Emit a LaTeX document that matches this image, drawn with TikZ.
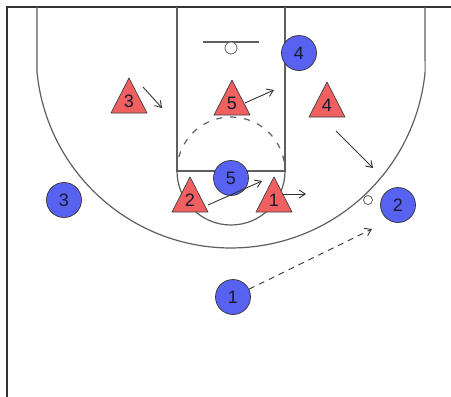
\documentclass[tikz,border=0pt]{standalone}
\usepackage{fontspec}
\setmainfont{Liberation Sans}
\usetikzlibrary{arrows.meta}
\definecolor{offense}{RGB}{88,98,240}
\definecolor{defense}{RGB}{240,96,96}
\definecolor{courtline}{RGB}{95,95,95}
\definecolor{txt}{RGB}{25,25,45}
\tikzset{
  frameline/.style={draw=black!80, line width=1.6pt},
  courtl/.style={draw=courtline, line width=1.2pt},
  offplayer/.style={circle, fill=offense, draw=black!80, line width=0.7pt, minimum size=35pt, inner sep=0pt, text=txt, font=\fontsize{18}{18}\selectfont},
  defshape/.style={fill=defense, draw=black!75, line width=0.7pt, line join=round},
  deflabel/.style={inner sep=0pt, text=txt, font=\fontsize{18}{18}\selectfont},
  move/.style={draw=black!80, line width=0.9pt, -{Straight Barb[length=6pt,width=8pt]}},
  pass/.style={move, dash pattern=on 6pt off 5pt},
  spot/.style={circle, draw=courtline, fill=white, line width=0.8pt, minimum size=9pt, inner sep=0pt}
}
\begin{document}
\begin{tikzpicture}[x=1pt,y=-1pt]
\useasboundingbox[fill=white] (0,0) rectangle (451,397);
% frame
\draw[frameline] (7,397) -- (7,7) -- (451,7);
% three point line
\draw[courtl] (37,7) -- (37,72) arc[start angle=174.4, end angle=5.6, radius=195] -- (425,7);
% lane
\draw[courtl] (177,7) -- (177,171) -- (285,171) -- (285,7);
\draw[courtl] (177,171) arc[start angle=180, end angle=0, radius=54];
\draw[courtl, dash pattern=on 6pt off 8pt] (177,171) arc[start angle=180, end angle=360, radius=54];
% backboard and basket
\draw[courtl, line width=1.4pt] (203,42) -- (259,42);
\node[spot, minimum size=12pt] (basket) at (231,48) {};
\node[spot] (mark) at (368,200) {};
% movement coordinates
\coordinate (m3s) at (143,87);  \coordinate (m3e) at (162,108);
\coordinate (m5s) at (245,103); \coordinate (m5e) at (274,90);
\coordinate (m4s) at (336,131); \coordinate (m4e) at (373,168);
\coordinate (m2s) at (208,205); \coordinate (m2e) at (262,181);
\coordinate (m1s) at (283,194); \coordinate (m1e) at (306,194);
\coordinate (pe) at (372,229);
% defenders (triangles)
\draw[defshape] (111,113) -- (129,78) -- (147,113) -- cycle;
\node[deflabel] (d3) at (129,101) {3};
\draw[defshape] (214,115) -- (232,80) -- (250,115) -- cycle;
\node[deflabel] (d5) at (232,103) {5};
\draw[defshape] (309,117) -- (327,82) -- (345,117) -- cycle;
\node[deflabel] (d4) at (327,105) {4};
\draw[defshape] (172,212) -- (190,177) -- (208,212) -- cycle;
\node[deflabel] (d2) at (190,200) {2};
\draw[defshape] (256,212) -- (274,177) -- (292,212) -- cycle;
\node[deflabel] (d1) at (274,200) {1};
% offense
\node[offplayer] (o4) at (299,53) {4};
\node[offplayer] (o5) at (231,178) {5};
\node[offplayer] (o3) at (64,200) {3};
\node[offplayer] (o2) at (398,205) {2};
\node[offplayer] (o1) at (233,297) {1};
% movements
\draw[move] (m3s) -- (m3e);
\draw[move] (m5s) -- (m5e);
\draw[move] (m4s) -- (m4e);
\draw[move] (m2s) -- (m2e);
\draw[move] (m1s) -- (m1e);
\draw[pass] (o1) -- (pe);
\end{tikzpicture}
\end{document}
